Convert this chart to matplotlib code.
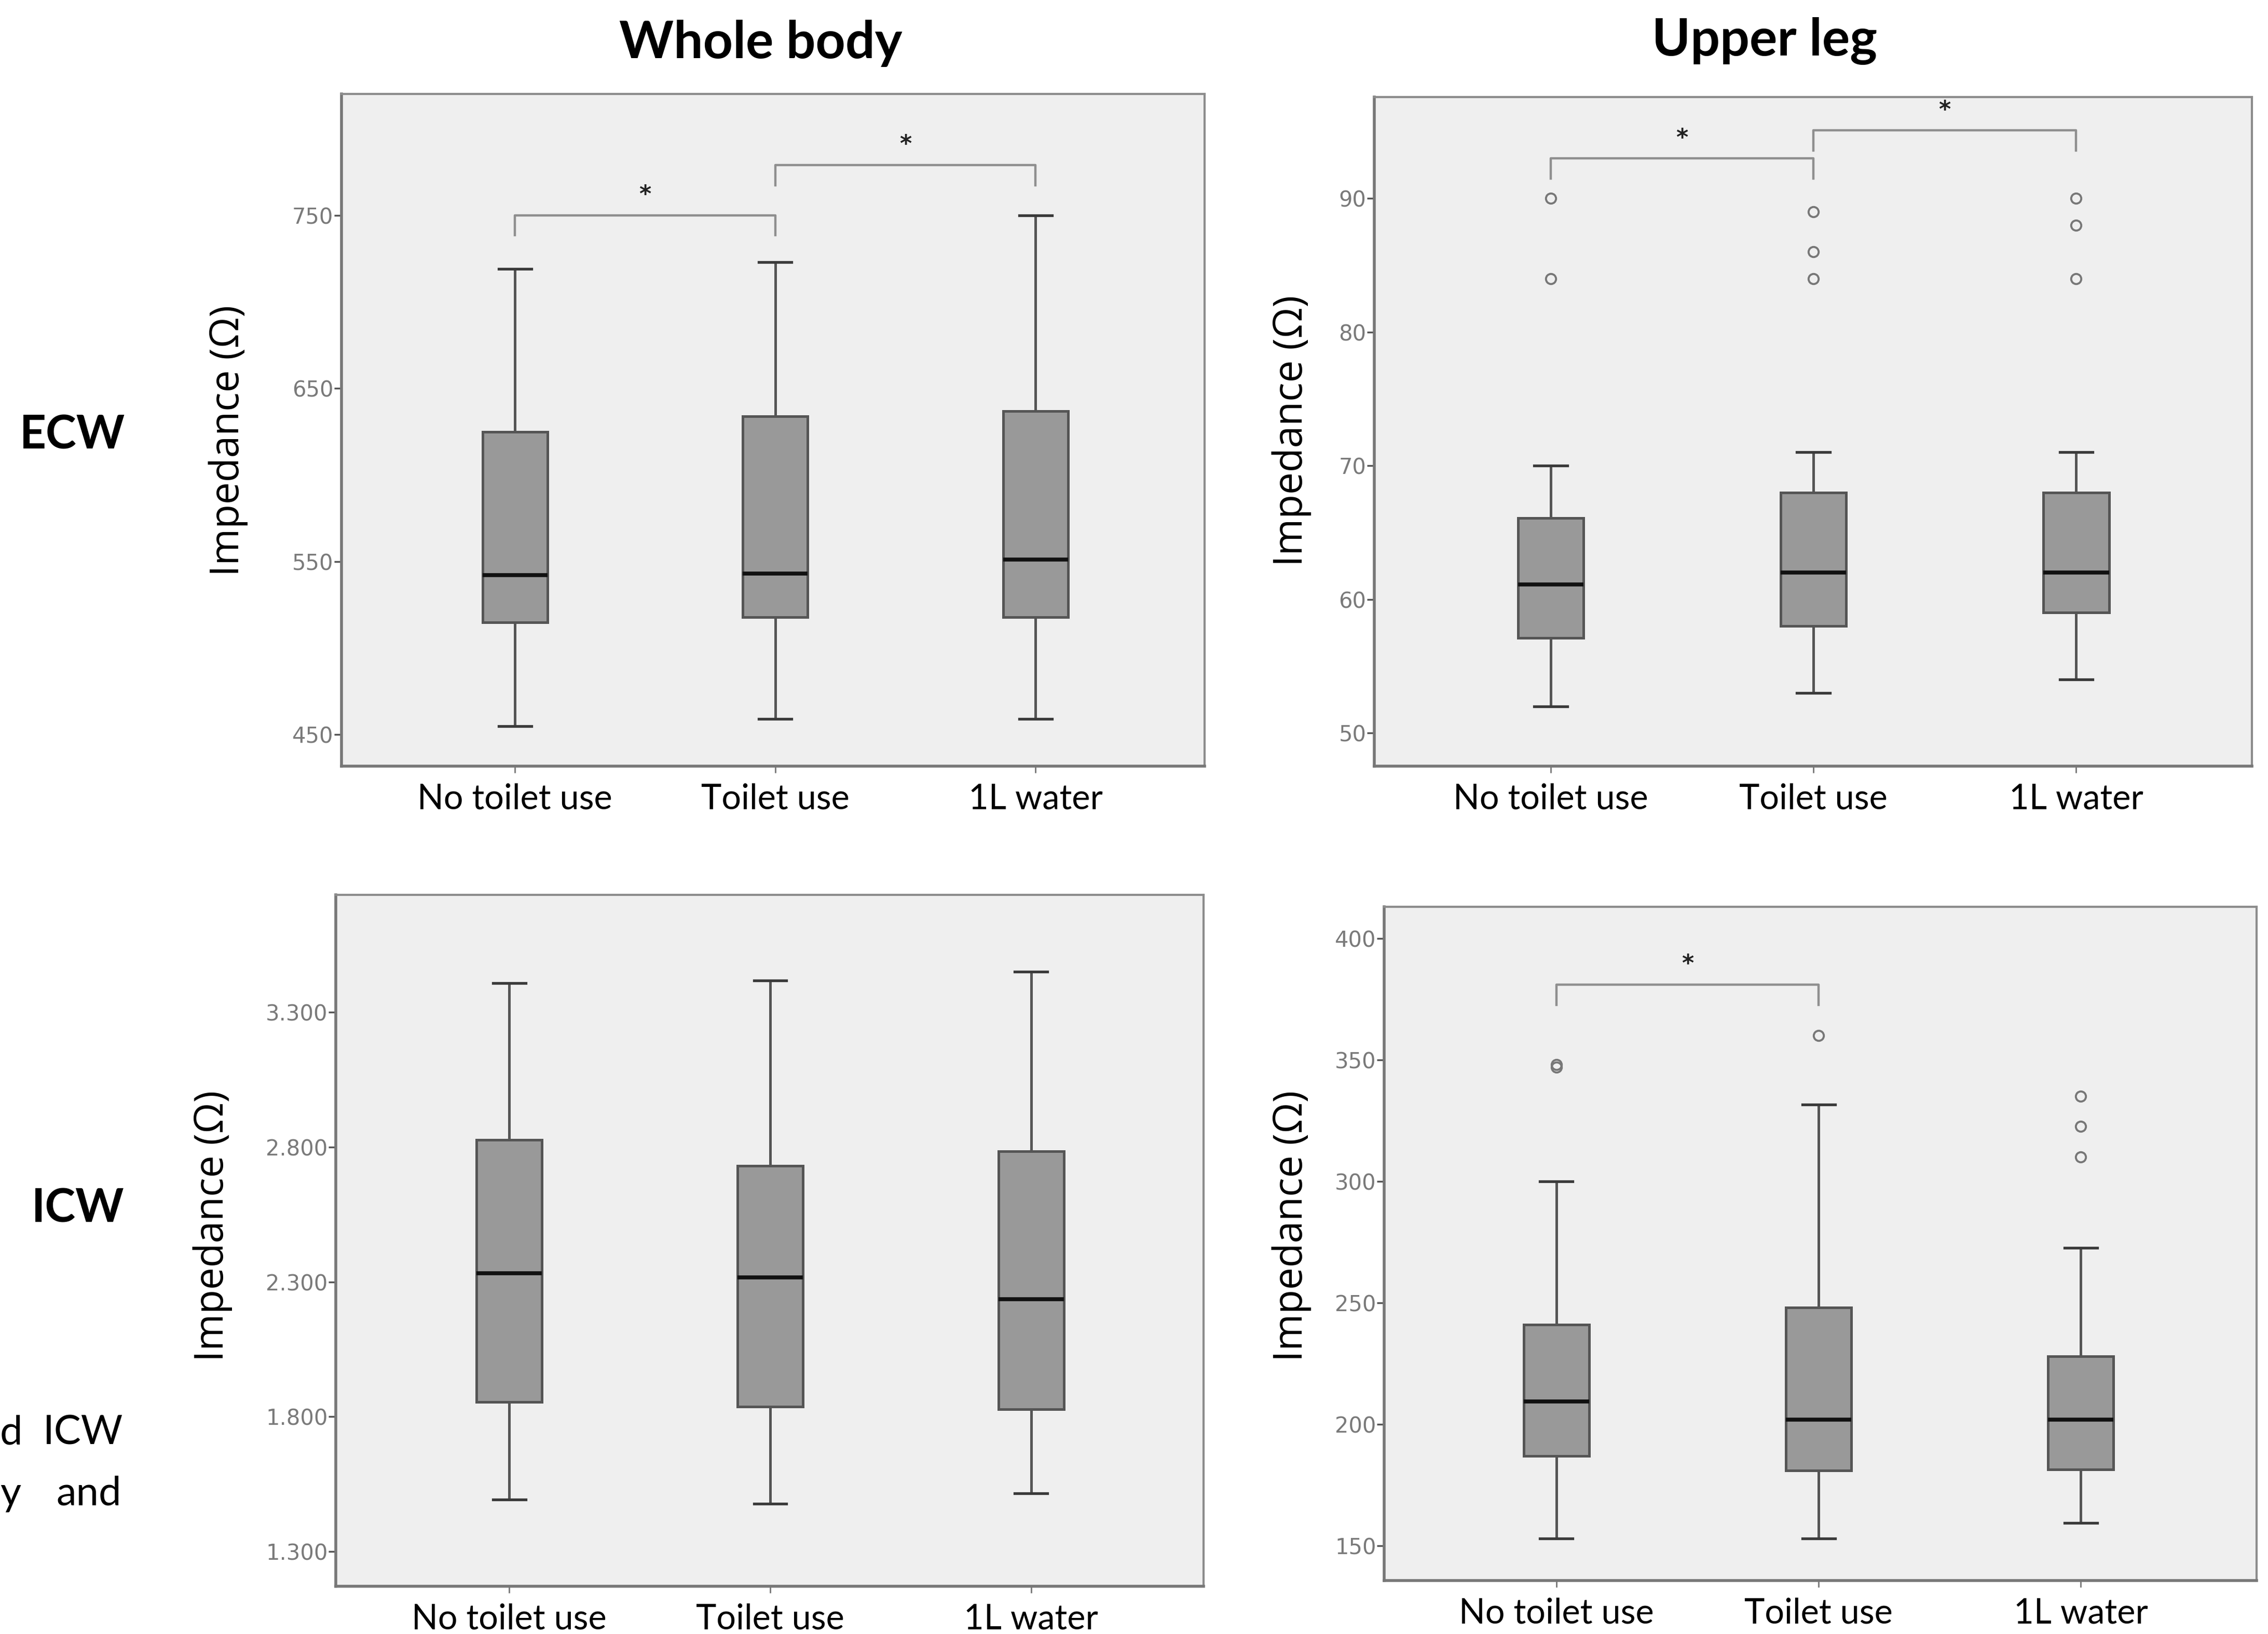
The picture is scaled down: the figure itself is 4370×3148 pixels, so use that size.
import matplotlib
matplotlib.use("Agg")
import matplotlib.pyplot as plt
from matplotlib.ticker import FuncFormatter

groups = ["No toilet use", "Toilet use", "1L water"]

# whole body, ECW
wb_ecw_lo = [455, 459, 459]
wb_ecw_q1 = [515, 518, 518]
wb_ecw_med = [542, 543, 551]
wb_ecw_q3 = [625, 634, 637]
wb_ecw_hi = [719, 723, 750]
wb_ecw_out = [[], [], []]
wb_ecw_sig = [(1, 2, 750), (2, 3, 779)]

# upper leg, ECW
ul_ecw_lo = [52, 53, 54]
ul_ecw_q1 = [57.1, 58, 59]
ul_ecw_med = [61.1, 62, 62]
ul_ecw_q3 = [66.1, 68, 68]
ul_ecw_hi = [70, 71, 71]
ul_ecw_out = [[84, 90], [84, 86, 89], [84, 88, 90]]
ul_ecw_sig = [(1, 2, 93.0), (2, 3, 95.1)]

# whole body, ICW
wb_icw_lo = [1493, 1477, 1515]
wb_icw_q1 = [1854, 1838, 1827]
wb_icw_med = [2332, 2316, 2236]
wb_icw_q3 = [2827, 2730, 2784]
wb_icw_hi = [3407, 3418, 3450]
wb_icw_out = [[], [], []]
wb_icw_sig = []

# upper leg, ICW
ul_icw_lo = [153, 153, 159.5]
ul_icw_q1 = [187, 181, 181.5]
ul_icw_med = [209.5, 202, 202]
ul_icw_q3 = [241, 248, 228]
ul_icw_hi = [300, 331.5, 272.6]
ul_icw_out = [[347, 348], [360], [310, 322.6, 335]]
ul_icw_sig = [(1, 2, 381)]


def make_stats(lo, q1, med, q3, hi, out):
    return [dict(whislo=a, q1=b, med=c, q3=d, whishi=e, fliers=f)
            for a, b, c, d, e, f in zip(lo, q1, med, q3, hi, out)]


panels = [
    dict(rect=[0.1505, 0.531, 0.3807, 0.4115],
         stats=make_stats(wb_ecw_lo, wb_ecw_q1, wb_ecw_med, wb_ecw_q3, wb_ecw_hi, wb_ecw_out),
         sig=wb_ecw_sig, ylim=(431.7, 820), yticks=[450, 550, 650, 750],
         fmt=lambda v, p: f"{v:.0f}", xlim=(0.333, 3.65), lab=(-0.1307, 0.484)),
    dict(rect=[0.6059, 0.531, 0.3871, 0.4097],
         stats=make_stats(ul_ecw_lo, ul_ecw_q1, ul_ecw_med, ul_ecw_q3, ul_ecw_hi, ul_ecw_out),
         sig=ul_ecw_sig, ylim=(47.5, 97.6), yticks=[50, 60, 70, 80, 90],
         fmt=lambda v, p: f"{v:.0f}", xlim=(0.328, 3.67), lab=(-0.0939, 0.501)),
    dict(rect=[0.148, 0.0292, 0.3826, 0.423],
         stats=make_stats(wb_icw_lo, wb_icw_q1, wb_icw_med, wb_icw_q3, wb_icw_hi, wb_icw_out),
         sig=wb_icw_sig, ylim=(1171, 3734), yticks=[1300, 1800, 2300, 2800, 3300],
         fmt=lambda v, p: f"{v / 1000:.3f}", xlim=(0.335, 3.66), lab=(-0.1417, 0.521)),
    dict(rect=[0.6103, 0.0327, 0.3846, 0.4124],
         stats=make_stats(ul_icw_lo, ul_icw_q1, ul_icw_med, ul_icw_q3, ul_icw_hi, ul_icw_out),
         sig=ul_icw_sig, ylim=(135.7, 413), yticks=[150, 200, 250, 300, 350, 400],
         fmt=lambda v, p: f"{v:.0f}", xlim=(0.343, 3.67), lab=(-0.106, 0.526)),
]

fig = plt.figure(figsize=(43.7, 31.48), dpi=100)
fig.patch.set_facecolor("white")

for pn in panels:
    ax = fig.add_axes(pn["rect"])
    ax.set_facecolor("#efefef")
    ax.bxp(pn["stats"], positions=[1, 2, 3], widths=0.25, capwidths=0.125,
           patch_artist=True,
           boxprops=dict(facecolor="#999999", edgecolor="#555555", linewidth=3.6),
           medianprops=dict(color="#111111", linewidth=5.5),
           whiskerprops=dict(color="#555555", linewidth=3.6),
           capprops=dict(color="#3a3a3a", linewidth=3.8),
           flierprops=dict(marker="o", markerfacecolor="none", markeredgecolor="#777777",
                           markersize=14, markeredgewidth=2.8))
    ax.set_xlim(*pn["xlim"])
    ax.set_ylim(*pn["ylim"])
    ax.set_yticks(pn["yticks"])
    ax.yaxis.set_major_formatter(FuncFormatter(pn["fmt"]))
    ax.set_xticks([1, 2, 3])
    ax.set_xticklabels(groups, fontsize=48, family="Lato")
    ax.tick_params(axis="y", labelsize=30, labelcolor="#7a7a7a", color="#555555",
                   length=10, width=2.5, pad=1)
    ax.tick_params(axis="x", color="#777777", length=9, width=2, pad=14)
    for side, sp in ax.spines.items():
        sp.set_color("#777777" if side in ("left", "bottom") else "#8c8c8c")
        sp.set_linewidth(4 if side in ("left", "bottom") else 3)

    ax.set_ylabel("Impedance (\u03a9)", fontsize=55, family="Open Sans")
    ax.yaxis.label.set_va("center")
    ax.yaxis.set_label_coords(*pn["lab"])

    yr = pn["ylim"][1] - pn["ylim"][0]
    for x1, x2, y in pn["sig"]:
        ax.plot([x1, x1, x2, x2], [y - 0.03 * yr, y, y, y - 0.03 * yr],
                color="#8f8f8f", lw=3.2)
        ax.text((x1 + x2) / 2, y + 0.03 * yr, "*", ha="center", va="center",
                fontsize=32, fontweight="bold", color="#222222")

fig.text(0.3355, 0.9735, "Whole body", ha="center", va="center",
         fontsize=72, fontweight="bold", family="Lato")
fig.text(0.778, 0.975, "Upper leg", ha="center", va="center",
         fontsize=72, fontweight="bold", family="Lato")
fig.text(0.0319, 0.7336, "ECW", ha="center", va="center",
         fontsize=64, fontweight="bold", family="Lato")
fig.text(0.0344, 0.2602, "ICW", ha="center", va="center",
         fontsize=64, fontweight="bold", family="Lato")

# caption fragments at the left edge
fig.text(0.0, 0.123, "d", ha="left", va="center", fontsize=56, family="Lato")
fig.text(0.0542, 0.123, "ICW", ha="right", va="center", fontsize=56, family="Lato")
fig.text(0.0, 0.0858, "y", ha="left", va="center", fontsize=56, family="Lato")
fig.text(0.0536, 0.0858, "and", ha="right", va="center", fontsize=56, family="Lato")

fig.savefig("out.png", dpi=100)
